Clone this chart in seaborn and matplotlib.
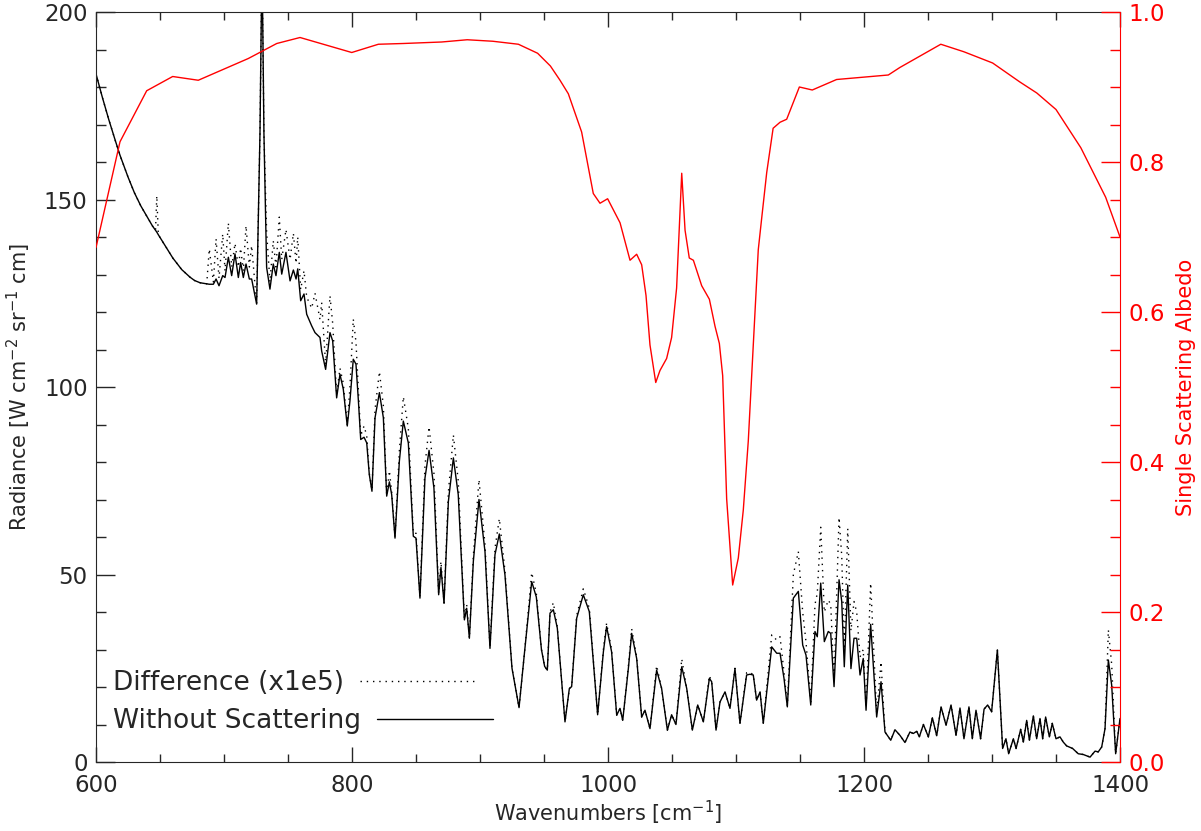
import numpy as np
import pandas as pd
import matplotlib
matplotlib.use("Agg")
import matplotlib.pyplot as plt
from matplotlib.ticker import MultipleLocator, FormatStrFormatter
import seaborn as sns

# ---- spectrum: wavenumber, radiance without scattering, difference (x1e5)
wavenumber = [
    600, 605, 610, 615, 618.75, 625, 630, 635, 639.6, 644, 646.5, 647.5, 648.7, 652, 660, 667,
    673.4, 677, 681.3, 686.5, 688.5,
    691.7, 693.8, 696.1, 699, 700.8, 703.4, 706, 708.6, 711.2, 713, 715.1, 717.2, 719.8, 721.6,
    725.5, 728.1, 729.7, 731.2, 733.3, 735.9, 738.5, 740.6, 743.2, 745.1, 748.4, 751.6, 754.2,
    756.3, 757.6, 759.9, 762.5, 764.6, 768.5, 771.1, 775, 776.3, 779.4, 782.8, 784.9, 788,
    790.6, 793.2, 796.3, 798.4, 801, 803.1, 805, 806.8, 809.4, 811.5, 813.5, 815.6, 818,
    821.4, 824.5, 827.1, 829.2, 831, 833.6, 837, 840.1, 844, 847.9, 850, 853.1, 857, 860.2,
    864, 867.7, 869.5, 871.9, 875.3, 879.2, 883, 887.8, 889.6, 891.7, 894.8, 899.2, 903.9,
    907.8, 911.7, 915.1, 919.5, 925, 930.5, 935, 940.4, 944, 948, 950.5, 952.6, 954.7, 957.3,
    960.4, 966.4, 969.8, 971.6, 975.5, 980.7, 985.4, 991.9, 996.4, 998.9, 1002.8, 1006.8,
    1009.4, 1011.5, 1015.9, 1018.5, 1022.4, 1026.3, 1028.9, 1032.8, 1038, 1041.9, 1046.4,
    1049.7, 1053.1, 1057.6, 1061.5, 1065.9, 1070.1, 1074.5, 1079.2, 1081, 1084.4, 1087.5,
    1091.4, 1095.3, 1099.2, 1103.1, 1108.3, 1110.9, 1113.5, 1116.1, 1118.8, 1121.3, 1127.9,
    1131.8, 1134.4, 1137.5, 1140.1, 1144.8, 1148.7, 1152.1, 1154.7, 1158.4, 1161.7, 1163.5,
    1166.2, 1169, 1172.1, 1174, 1176.6, 1180.5, 1182.6, 1184.6, 1187.3, 1189.8, 1192.2,
    1194.3, 1196.9, 1199.4, 1201.6, 1205.2, 1209.9, 1213.3, 1216.4, 1220.9, 1224.2, 1228.1,
    1232, 1235.9, 1238.5, 1241.2, 1243.2, 1246.4, 1250.3, 1253.4, 1256.8, 1260.2, 1264.1,
    1268, 1271.9, 1275, 1278.1, 1282, 1284.6, 1287.5, 1291.1, 1293.8, 1296.6, 1299.7, 1304.2,
    1308.3, 1310.9, 1313, 1316.7, 1318.8, 1322.4, 1324.5, 1327.1, 1329.2, 1332.3, 1334.9,
    1337.5, 1339.6, 1341.9, 1344.8, 1347.1, 1350, 1353.1, 1355.7, 1358.3, 1363, 1367.4,
    1371.3, 1376.6, 1380.5, 1383, 1385.7, 1388.3, 1390.9, 1393.5, 1396.6, 1400,
]
no_scatter = [
    183.5, 177.2, 171.3, 165.8, 161.8, 156.0, 151.8, 148.3, 145.6, 143.0, 141.8, 141.3, 140.6, 138.8, 134.4, 131.3,
    129.3, 128.4, 127.8, 127.5, 127.4,
    127.4, 128.8, 127.0, 129.7, 129.2, 134.6, 129.7, 135.5, 129.2, 133.2, 129.2, 132.8, 128.8, 128.8,
    122.1, 167.6, 215.0, 167.6, 131.9, 126.1, 132.8, 129.7, 135.9, 130.1, 135.9, 128.3, 131.2,
    128.8, 131.5, 123.0, 124.8, 119.4, 116.3, 114.5, 113.2, 109.6, 104.7, 114.5, 112.3, 97.1,
    103.4, 99.4, 89.6, 96.3, 107.4, 106.1, 96.3, 86.0, 86.6, 85.1, 76.7, 72.2, 91.8,
    98.5, 91.8, 70.9, 74.7, 71.3, 59.7, 80.2, 90.9, 85.1, 60.2, 59.7, 43.7, 75.7, 83.1,
    73.1, 44.6, 51.9, 42.3, 69.5, 81.1, 71.3, 37.9, 41.0, 33.0, 53.5, 70.0, 56.1,
    30.3, 55.3, 60.8, 49.9, 25.0, 14.5, 30.0, 48.1, 44.0, 30.0, 25.5, 24.5, 39.7, 40.6,
    35.7, 10.7, 19.6, 20.1, 38.3, 44.6, 40.1, 12.6, 29.4, 36.1, 29.4, 12.5,
    14.3, 11.1, 24.9, 34.3, 27.6, 12.0, 13.8, 8.9, 24.5, 19.6, 8.5,
    12.6, 10.0, 25.4, 19.6, 8.5, 15.2, 10.7, 22.3, 21.4, 8.5, 16.0,
    18.7, 14.3, 24.9, 10.3, 23.2, 23.4, 23.2, 16.5, 18.7, 10.3, 30.7,
    29.0, 29.0, 22.3, 14.7, 43.7, 45.5, 31.2, 28.5, 15.2, 34.8, 33.4,
    47.7, 32.1, 34.8, 34.3, 20.1, 48.6, 42.8, 25.4, 47.2, 24.9, 33.0,
    33.0, 23.2, 27.6, 13.8, 36.7, 12.0, 21.4, 8.0, 5.8, 8.6, 7.1,
    5.2, 8.0, 7.6, 8.2, 6.7, 10.0, 6.7, 11.8, 7.0, 14.7, 9.8,
    15.2, 7.1, 14.4, 6.2, 14.7, 6.2, 13.8, 6.2, 14.1, 15.2, 13.4, 29.9,
    3.6, 6.2, 2.2, 6.2, 3.6, 8.7, 5.3, 11.1, 5.8, 12.3, 6.2,
    11.6, 6.2, 12.0, 6.7, 10.3, 6.2, 6.7, 5.3, 4.3, 3.6, 2.2,
    2.0, 1.3, 2.9, 2.7, 4.0, 8.9, 27.2, 20.5, 2.2, 11.6,
]
difference = [
    183.5, 177.2, 171.3, 165.8, 161.8, 156.0, 151.8, 148.3, 145.6, 143.0, 141.8, 151.0, 140.6, 138.8, 134.4, 131.3,
    129.3, 128.4, 127.8, 127.5, 136.8,
    128.0, 139.5, 129.0, 140.8, 131.0, 143.7, 132.0, 138.3, 132.0, 137.0, 131.0, 143.0, 132.0, 137.7,
    122.1, 167.6, 215.0, 167.6, 141.3, 128.0, 139.0, 132.0, 145.3, 134.0, 142.0, 134.0, 141.0,
    133.0, 140.0, 126.0, 131.0, 124.0, 121.0, 125.0, 118.0, 122.5, 106.0, 124.3, 117.0, 98.0,
    105.0, 101.0, 90.0, 100.0, 118.1, 112.0, 99.0, 87.0, 89.6, 87.0, 77.0, 72.5, 94.0,
    104.1, 95.0, 71.0, 77.7, 72.0, 60.0, 83.0, 97.4, 89.0, 61.0, 61.0, 44.0, 79.0, 89.4,
    77.0, 45.0, 53.5, 42.5, 72.0, 87.2, 75.0, 38.0, 42.0, 33.0, 55.0, 75.3, 58.0,
    30.5, 57.0, 64.9, 51.0, 25.0, 14.5, 30.0, 50.5, 45.0, 30.0, 25.5, 24.5, 40.0, 42.5,
    36.0, 10.7, 19.6, 20.1, 39.0, 46.2, 41.0, 12.6, 30.0, 37.0, 30.0, 12.5,
    14.3, 11.1, 25.5, 35.5, 28.0, 12.0, 13.8, 8.9, 25.7, 19.6, 8.5,
    12.6, 10.0, 27.5, 19.6, 8.5, 15.2, 10.7, 23.0, 21.4, 8.5, 16.0,
    18.7, 14.3, 25.0, 10.3, 23.8, 24.0, 23.2, 16.5, 18.7, 10.3, 33.9,
    32.5, 33.4, 24.0, 15.0, 50.0, 56.1, 40.0, 32.0, 16.0, 42.0, 45.0,
    62.6, 40.0, 43.2, 42.0, 22.0, 65.2, 55.0, 30.0, 62.2, 35.0, 42.8,
    40.0, 28.0, 30.0, 14.5, 47.7, 13.0, 26.7, 8.0, 5.8, 8.6, 7.1,
    5.2, 8.0, 7.6, 8.2, 6.7, 10.0, 6.7, 11.8, 7.0, 14.7, 9.8,
    15.2, 7.1, 14.4, 6.2, 14.7, 6.2, 13.8, 6.2, 14.1, 15.2, 13.4, 29.9,
    3.6, 6.2, 2.2, 6.2, 3.6, 8.7, 5.3, 11.1, 5.8, 12.3, 6.2,
    11.6, 6.2, 12.0, 6.7, 10.3, 6.2, 6.7, 5.3, 4.3, 3.6, 2.2,
    2.0, 1.3, 2.9, 2.7, 4.0, 8.9, 35.2, 26.0, 2.2, 11.6,
]

# ---- single scattering albedo (right axis)
albedo_wn = [
    600, 618.75, 639.6, 659.9, 679.9, 719, 741.2, 759.4, 799.8, 820.6, 840, 870, 890, 910,
    930, 945, 955, 962.5, 969, 979.4, 988.5, 993.75, 999.7, 1009.4, 1017.2, 1022.4, 1026.3,
    1029.7, 1032.8, 1037.3, 1040.6, 1045.8, 1049.7, 1053.6, 1057.6, 1060.2, 1063.5, 1066.7,
    1073.2, 1079.2, 1083.6, 1087, 1089.6, 1092.7, 1097.4, 1101.8, 1105.7, 1109.6, 1113.5,
    1117.4, 1120, 1124, 1129, 1134.4, 1139.6, 1149.5, 1159.6, 1178.6, 1219, 1228, 1260,
    1278, 1300.5, 1321.5, 1335, 1350, 1369.4, 1388.8, 1400,
]
albedo = [
    0.686, 0.827, 0.895, 0.914, 0.909, 0.938, 0.958, 0.966, 0.946, 0.957, 0.958, 0.960, 0.963, 0.961,
    0.957, 0.945, 0.928, 0.909, 0.891, 0.840, 0.758, 0.745, 0.751, 0.719, 0.669, 0.677, 0.663,
    0.622, 0.556, 0.506, 0.522, 0.538, 0.566, 0.632, 0.785, 0.709, 0.672, 0.669,
    0.635, 0.617, 0.581, 0.558, 0.515, 0.351, 0.236, 0.272, 0.336, 0.428, 0.556,
    0.683, 0.724, 0.786, 0.845, 0.853, 0.857, 0.900, 0.896, 0.910, 0.916, 0.926, 0.957,
    0.947, 0.932, 0.907, 0.892, 0.870, 0.819, 0.753, 0.700,
]

spec = pd.DataFrame({"wn": wavenumber, "rad": no_scatter, "diff": difference})
alb = pd.DataFrame({"wn": albedo_wn, "ssa": albedo})

sns.set_style("ticks")
plt.rcParams["font.family"] = ["DejaVu Sans"]
plt.rcParams["mathtext.default"] = "regular"

fig = plt.figure(figsize=(12.01, 8.31), dpi=100)
ax = fig.add_axes([96 / 1201, 69 / 831, 1024 / 1201, 750 / 831])

sns.lineplot(data=spec, x="wn", y="diff", ax=ax, color="black", lw=1.0,
             linestyle=(0, (1, 3.5)), estimator=None, sort=False, label="Difference (x1e5)")
sns.lineplot(data=spec, x="wn", y="rad", ax=ax, color="black", lw=1.0,
             estimator=None, sort=False, label="Without Scattering")

ax.set_xlim(600, 1400)
ax.set_ylim(0, 200)
ax.xaxis.set_major_locator(MultipleLocator(200))
ax.xaxis.set_minor_locator(MultipleLocator(50))
ax.yaxis.set_major_locator(MultipleLocator(50))
ax.yaxis.set_minor_locator(MultipleLocator(10))
ax.tick_params(axis="x", which="both", direction="in", top=True, bottom=True, labelsize=16.5, pad=9)
ax.tick_params(axis="x", which="major", length=11, width=1)
ax.tick_params(axis="x", which="minor", length=5.5, width=1)
ax.tick_params(axis="y", which="both", direction="in", left=True, right=False, labelsize=16.5, pad=6)
ax.tick_params(axis="y", which="major", length=14, width=1)
ax.tick_params(axis="y", which="minor", length=7, width=1)
ax.set_xlabel("Wavenumbers [cm$^{-1}$]", fontsize=15, labelpad=1)
ax.set_ylabel("Radiance [W cm$^{-2}$ sr$^{-1}$ cm]", fontsize=15, labelpad=8)
ax.spines["right"].set_visible(False)

# legend: labels on the left, line samples on the right, labels left-aligned
leg = ax.legend(loc="lower left", bbox_to_anchor=(0.017, 0.037), frameon=False,
                markerfirst=False, fontsize=19, handlelength=4.4, handletextpad=0.6,
                labelspacing=0.45, borderpad=0, borderaxespad=0)
for col in leg._legend_handle_box.get_children():
    col.align = "left"

ax2 = ax.twinx()
sns.lineplot(data=alb, x="wn", y="ssa", ax=ax2, color="red", lw=1.0,
             estimator=None, sort=False, legend=False)
ax2.set_ylim(0, 1.0)
ax2.set_xlim(600, 1400)
ax2.yaxis.set_major_locator(MultipleLocator(0.2))
ax2.yaxis.set_minor_locator(MultipleLocator(0.05))
ax2.yaxis.set_major_formatter(FormatStrFormatter("%.1f"))
ax2.tick_params(axis="y", which="both", direction="in", colors="red", labelsize=16.5, pad=6)
ax2.tick_params(axis="y", which="major", length=14, width=1)
ax2.tick_params(axis="y", which="minor", length=7, width=1)
ax2.set_ylabel("Single Scattering Albedo", color="red", fontsize=15, labelpad=8)
ax2.set_xlabel("")
for side in ["left", "top", "bottom"]:
    ax2.spines[side].set_visible(False)
ax2.spines["right"].set_color("red")

fig.savefig("out.png", dpi=100)
